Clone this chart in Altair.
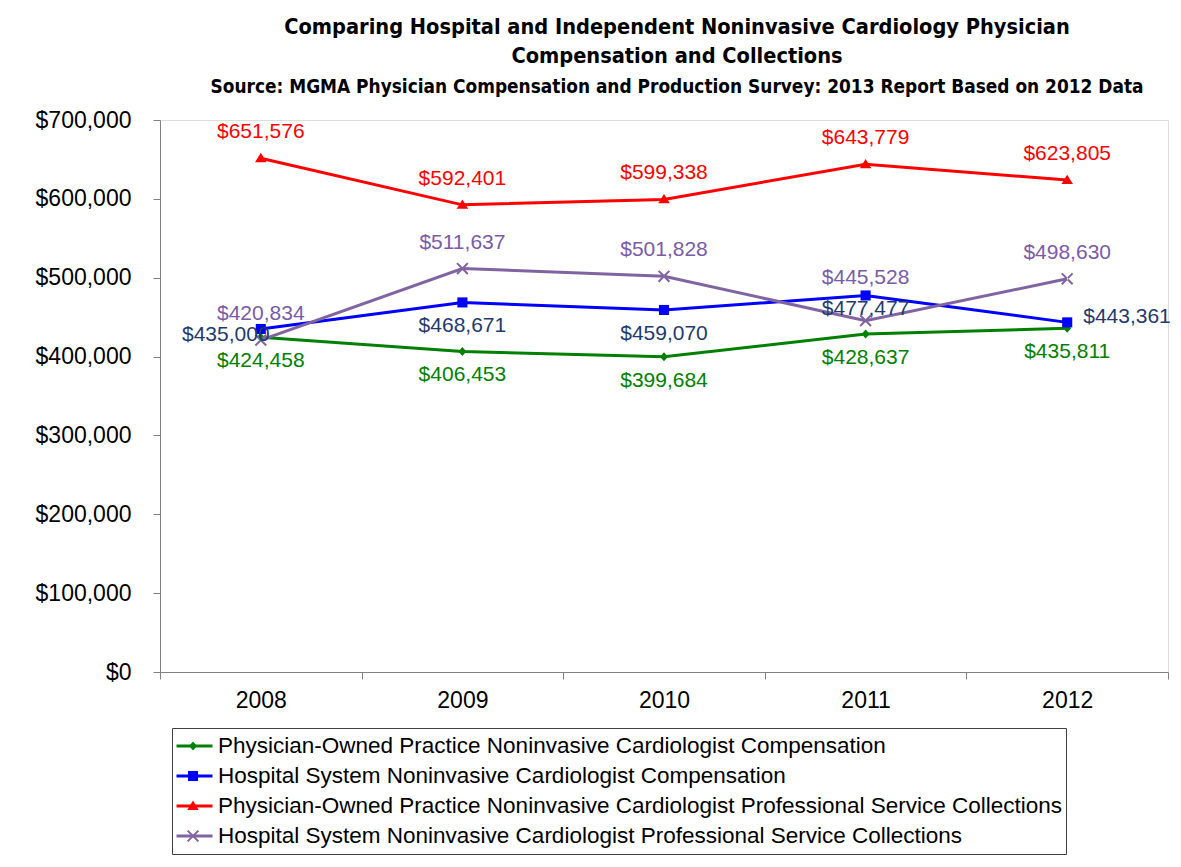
import altair as alt
import pandas as pd

# ---------------- data ----------------
years = [2008, 2009, 2010, 2011, 2012]
series_names = [
    "Physician-Owned Practice Noninvasive Cardiologist Compensation",
    "Hospital System Noninvasive Cardiologist Compensation",
    "Physician-Owned Practice Noninvasive Cardiologist Professional Service Collections",
    "Hospital System Noninvasive Cardiologist Professional Service Collections",
]
po_comp = [424458, 406453, 399684, 428637, 435811]
hs_comp = [435000, 468671, 459070, 477477, 443361]
po_coll = [651576, 592401, 599338, 643779, 623805]
hs_coll = [420834, 511637, 501828, 445528, 498630]
y_ticks = [0, 100000, 200000, 300000, 400000, 500000, 600000, 700000]
x_tick_edges = [2007.5, 2008.5, 2009.5, 2010.5, 2011.5, 2012.5]

title_lines = [
    "Comparing Hospital and Independent Noninvasive Cardiology Physician",
    "Compensation and Collections",
]
subtitle = "Source: MGMA Physician Compensation and Production Survey:  2013 Report Based on 2012 Data"

# ---------------- styling ----------------
line_colors = ["#008000", "#0000FF", "#FF0000", "#8064A2"]
label_colors = ["#008000", "#1F3A6E", "#FF0000", "#7A5BA8"]
FONT = "Liberation Sans"
NARROW = "DejaVu Sans Condensed, Liberation Sans"

# marker paths (unit = sqrt(size)/2)
diamond = "M0,-0.25L0.22,0L0,0.25L-0.22,0Z"
square = "M-0.28,-0.28L0.28,-0.28L0.28,0.28L-0.28,0.28Z"
triangle = "M0,-0.3L0.32,0.22L-0.32,0.22Z"
xmark = ("M-0.26,-0.34L0.34,0.26L0.26,0.34L-0.34,-0.26Z"
         "M-0.26,0.34L0.34,-0.26L0.26,-0.34L-0.34,0.26Z")
marker_paths = [diamond, square, triangle, xmark]
SYM = 1296

rows = []
for name, vals in zip(series_names, [po_comp, hs_comp, po_coll, hs_coll]):
    for yr, v in zip(years, vals):
        rows.append({"year": yr, "value": v, "series": name, "series_b": name + " "})
df = pd.DataFrame(rows)
names_b = [n + " " for n in series_names]

W, H = 1008, 552

X = alt.X(
    "year:Q",
    scale=alt.Scale(domain=[2007.5, 2012.5], nice=False, zero=False),
    axis=alt.Axis(
        values=x_tick_edges, title=None, grid=False,
        labelExpr="datum.value < 2012 ? format(datum.value + 0.5, 'd') : ''",
        labelOffset=W / 10, labelFlush=False, labelOverlap=False,
        labelFont=FONT, labelFontSize=23, labelColor="#000000",
        labelPadding=10, tickSize=7, tickColor="#808080",
        domainColor="#808080", domainWidth=1,
    ),
)
Y = alt.Y(
    "value:Q",
    scale=alt.Scale(domain=[0, 700000], nice=False),
    axis=alt.Axis(
        values=y_ticks, format="$,.0f", title=None, grid=False,
        labelFont=FONT, labelFontSize=23, labelColor="#000000",
        labelPadding=22, tickSize=7, tickColor="#808080",
        domainColor="#808080", domainWidth=1,
    ),
)

base = alt.Chart(df)

legend_common = dict(
    orient="none", legendX=12, legendY=608, title=None, direction="vertical",
    labelFont=FONT, labelFontSize=22.5, labelColor="#000000", labelLimit=1000,
    symbolSize=SYM, clipHeight=30, rowPadding=0, labelOffset=4, padding=3,
)

lines = base.mark_line(strokeWidth=3).encode(
    x=X, y=Y,
    stroke=alt.Stroke(
        "series:N",
        scale=alt.Scale(domain=series_names, range=line_colors),
        legend=alt.Legend(
            symbolType="M-1,0L1,0", symbolStrokeWidth=3,
            strokeColor="#404040", **legend_common,
        ),
    ),
)

marker_legend = alt.Legend(
    labelExpr="' '", symbolStrokeWidth=0, symbolOpacity=1, **legend_common
)

points = base.mark_point(filled=True, size=SYM, opacity=1).encode(
    x=X, y=Y,
    fill=alt.Fill(
        "series_b:N",
        scale=alt.Scale(domain=names_b, range=line_colors),
        legend=marker_legend,
    ),
    shape=alt.Shape(
        "series_b:N",
        scale=alt.Scale(domain=names_b, range=marker_paths),
        legend=marker_legend,
    ),
)


def labels(idx, yrs, dx=0, dy=0, align="center"):
    yr_list = ",".join(str(y) for y in yrs)
    return base.mark_text(
        font=FONT, fontSize=21, color=label_colors[idx], dx=dx, dy=dy,
        align=align, baseline="middle",
    ).encode(
        x=X, y=Y, text=alt.Text("value:Q", format="$,.0f"),
    ).transform_filter(
        f"datum.series == '{series_names[idx]}' && indexof([{yr_list}], datum.year) >= 0"
    )


label_layers = [
    labels(0, years, dy=24),
    labels(2, years, dy=-26),
    labels(3, [2008, 2009, 2010, 2012], dy=-26),
    labels(3, [2011], dy=-43),
    labels(1, [2008], dx=-35, dy=6),
    labels(1, [2009, 2010], dy=24),
    labels(1, [2011], dy=14),
    labels(1, [2012], dx=16, dy=-5, align="left"),
]

chart = alt.layer(lines, points, *label_layers).properties(
    width=W, height=H,
    title=alt.TitleParams(
        text=title_lines, subtitle=subtitle, anchor="middle", dx=13,
        font=NARROW, fontSize=21.6, fontWeight="bold", color="#000000", lineHeight=29,
        subtitleFont=NARROW, subtitleFontSize=18.9, subtitleFontWeight="bold",
        subtitleColor="#000000", subtitlePadding=11, offset=12,
    ),
    autosize=alt.AutoSizeParams(type="none"),
    padding={"left": 152, "top": 112, "right": 5, "bottom": 184},
).configure_view(
    fill="#FFFF99", stroke="#808080", strokeWidth=1,
).configure(background="#FFFFFF")

chart.save("out.html", embed_options={"renderer": "svg", "actions": False})
